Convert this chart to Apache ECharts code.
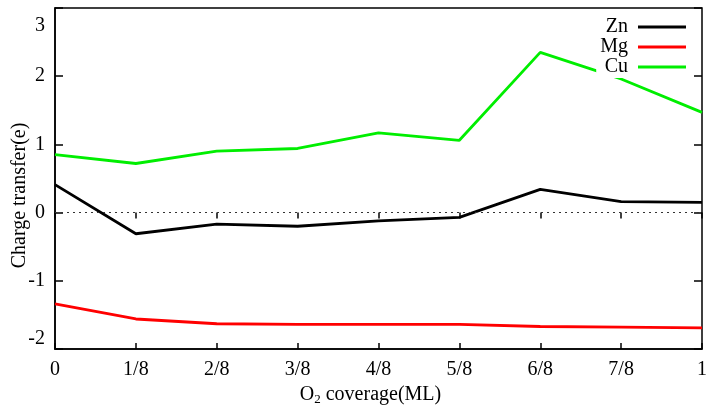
<!DOCTYPE html>
<html>
<head>
<meta charset="utf-8">
<script src="https://cdn.jsdelivr.net/npm/echarts@6/dist/echarts.min.js"></script>
<style>
  html, body { margin: 0; padding: 0; background: #fff; }
  #chart { width: 706px; height: 408px; }
</style>
</head>
<body>
<div id="chart"></div>
<script>
// O2 coverage (ML) categories
const coverage = ['0', '1/8', '2/8', '3/8', '4/8', '5/8', '6/8', '7/8', '1']

// charge transfer (e)
const zn = [0.41, -0.31, -0.17, -0.20, -0.12, -0.07, 0.34, 0.16, 0.15]
const mg = [-1.34, -1.56, -1.63, -1.64, -1.64, -1.64, -1.67, -1.68, -1.69]
const cu = [0.85, 0.72, 0.90, 0.94, 1.17, 1.06, 2.35, 1.96, 1.47]

const serif = 'Liberation Serif'

const chart = echarts.init(document.getElementById('chart'))

function lineSeries(name, data, color) {
  return {
    name,
    type: 'line',
    data,
    symbol: 'none',
    lineStyle: { color, width: 2.8 },
    itemStyle: { color },
    z: 3
  }
}

const zeroLine = {
  silent: true,
  symbol: 'none',
  label: { show: false },
  lineStyle: { type: [2, 4], color: '#333', width: 1.2 },
  data: [{ yAxis: 0 }]
}

const series = [
  lineSeries('Zn', zn, '#000000'),
  lineSeries('Mg', mg, '#ff0000'),
  lineSeries('Cu', cu, '#00ee00')
]
series[0].markLine = zeroLine

chart.setOption({
  animation: false,
  backgroundColor: '#fff',
  textStyle: { fontFamily: serif },
  grid: {
    left: 55, right: 4, top: 8, bottom: 59,
    outerBoundsMode: 'none',
    show: true, borderColor: '#000', borderWidth: 1.5
  },
  legend: {
    top: 16, right: 18,
    orient: 'vertical',
    align: 'right',
    itemGap: 0,
    itemWidth: 48,
    itemHeight: 3,
    icon: 'rect',
    backgroundColor: '#fff',
    padding: [1, 2, 1, 4],
    textStyle: { fontFamily: serif, fontSize: 20, color: '#000', padding: [0, 5, 0, 0] },
    data: ['Zn', 'Mg', 'Cu']
  },
  xAxis: [{
    type: 'category',
    data: coverage,
    boundaryGap: false,
    axisLine: { onZero: false, lineStyle: { color: '#000', width: 1.5 } },
    axisTick: { inside: true, length: 6, lineStyle: { color: '#000', width: 1.5 } },
    axisLabel: { color: '#000', fontSize: 20, fontFamily: serif, margin: 11 },
    name: '{n|O}{s|2}{n| coverage(ML)}',
    nameLocation: 'middle',
    nameGap: 32,
    nameTextStyle: {
      padding: [0, 16, 0, 0],
      rich: {
        n: { fontFamily: serif, fontSize: 20, color: '#000' },
        s: { fontFamily: serif, fontSize: 13, color: '#000', verticalAlign: 'bottom', padding: [9, 0, 0, 0] }
      }
    }
  }, {
    type: 'category',
    data: coverage,
    boundaryGap: false,
    position: 'top',
    axisLine: { show: false },
    axisTick: { inside: true, length: 6, lineStyle: { color: '#000', width: 1.5 } },
    axisLabel: { show: false }
  }],
  yAxis: [{
    type: 'value',
    min: -2, max: 3, interval: 1,
    splitLine: { show: false },
    axisLine: { show: true, onZero: false, lineStyle: { color: '#000', width: 1.5 } },
    axisTick: { show: true, inside: true, length: 8, lineStyle: { color: '#000', width: 1.5 } },
    axisLabel: {
      color: '#000', fontSize: 20, fontFamily: serif, margin: 10,
      verticalAlignMaxLabel: 'top', verticalAlignMinLabel: 'bottom',
      formatter: v => (v === 3 ? '{t|3}' : String(v)),
      rich: { t: { fontFamily: serif, fontSize: 20, color: '#000', padding: [8, 0, 0, 0] } }
    },
    name: 'Charge transfer(e)',
    nameLocation: 'middle',
    nameGap: 25,
    nameMoveOverlap: false,
    nameTextStyle: { fontFamily: serif, fontSize: 20, color: '#000', padding: [0, 0, 0, -34] }
  }, {
    type: 'value',
    min: -2, max: 3, interval: 1,
    position: 'right',
    splitLine: { show: false },
    axisLine: { show: false },
    axisTick: { show: true, inside: true, length: 8, lineStyle: { color: '#000', width: 1.5 } },
    axisLabel: { show: false }
  }],
  series
})
</script>
</body>
</html>
